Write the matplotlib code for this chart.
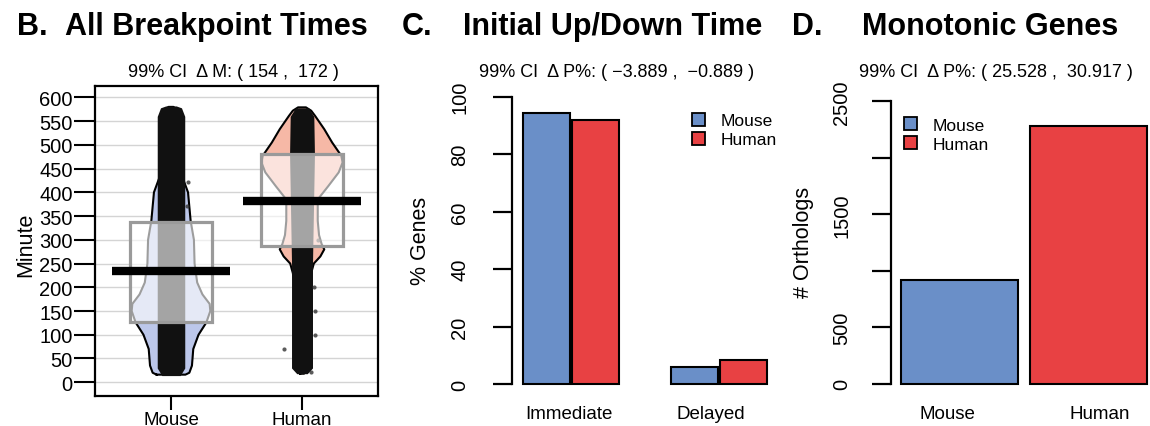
import matplotlib
matplotlib.use("Agg")
import matplotlib.pyplot as plt
import matplotlib.transforms as mtrans
import numpy as np
from matplotlib.patches import Patch, Rectangle

plt.rcParams['font.family'] = ['Liberation Sans', 'DejaVu Sans']

W, H = 1150, 427

# ---- panel B: breakpoint times (violin + jitter cloud + box + mean)
groups_b = ['Mouse', 'Human']
viol_colors = ['#bcc7ea', '#f6b8a6']
mouse_vy = [16, 20, 35, 70, 100, 126, 150, 165, 185, 210, 250, 300, 340, 370, 400, 430, 460, 500, 540, 575, 580]
mouse_vw = [0.11, 0.14, 0.16, 0.17, 0.21, 0.27, 0.30, 0.295, 0.24, 0.20, 0.18, 0.175, 0.15, 0.14, 0.13, 0.09, 0.06, 0.045, 0.038, 0.034, 0.02]
human_vy = [18, 30, 60, 100, 150, 200, 230, 250, 265, 280, 291, 310, 340, 385, 413, 442, 463, 477, 505, 533, 561, 572, 579]
human_vw = [0.015, 0.038, 0.045, 0.053, 0.053, 0.055, 0.07, 0.09, 0.14, 0.17, 0.15, 0.13, 0.12, 0.12, 0.2, 0.28, 0.31, 0.30, 0.23, 0.17, 0.10, 0.07, 0.03]
# extent of the jittered point cloud
mouse_cy = [14, 30, 560, 578, 582]
mouse_cw = [0.07, 0.105, 0.105, 0.08, 0.04]
human_cy = [18, 30, 250, 480, 560, 578]
human_cw = [0.04, 0.08, 0.08, 0.095, 0.09, 0.05]
stray_x = [1.13, 1.12, 2.10, 2.10, 2.09, 1.86, 2.07, 2.12]
stray_y = [421, 372, 150, 100, 200, 70, 22, 300]
q1 = [127, 288]
q3 = [337, 480]
means = [234, 381]

# ---- panel C: initial up/down time
cats_c = ['Immediate', 'Delayed']
mouse_c = [94.2, 5.8]
human_c = [91.7, 8.3]

# ---- panel D: monotonic genes
cats_d = ['Mouse', 'Human']
counts_d = [915, 2282]

blue = '#6a8fc8'
red = '#e84143'


def fx(x):
    return x / W


def fy(y):
    return 1 - y / H


def axes_px(x0, y0, x1, y1):
    return fig.add_axes([fx(x0), fy(y1), (x1 - x0) / W, (y1 - y0) / H])


fig = plt.figure(figsize=(11.5, 4.27), dpi=100)

# ================= B =================
ax = axes_px(95, 87, 378, 397)
ax.set_xlim(0.42, 2.58)
ax.set_ylim(-29, 624)
for v in range(0, 601, 50):
    ax.axhline(v, color='#d4d4d4', lw=1.0, zorder=0)

prof = [(mouse_vy, mouse_vw, mouse_cy, mouse_cw), (human_vy, human_vw, human_cy, human_cw)]
for i, (vy, vw, cy, cw) in enumerate(prof):
    c = i + 1
    vy = np.array(vy); vw = np.array(vw)
    ax.fill_betweenx(vy, c - vw, c + vw, color=viol_colors[i], lw=0, zorder=1)
    xs = np.concatenate([c - vw, (c + vw)[::-1], [c - vw[0]]])
    ys = np.concatenate([vy, vy[::-1], [vy[0]]])
    ax.plot(xs, ys, color='black', lw=1.5, zorder=2)
    cy = np.array(cy); cw = np.array(cw)
    ax.fill_betweenx(cy, c - cw, c + cw, color='#111111', lw=0, zorder=3)
ax.scatter(stray_x, stray_y, s=9, color='#333333', alpha=0.8, lw=0, zorder=3)

for i in range(2):
    c = i + 1
    ax.add_patch(Rectangle((c - 0.31, q1[i]), 0.62, q3[i] - q1[i], facecolor='white', alpha=0.62,
                           edgecolor='none', zorder=4))
    ax.add_patch(Rectangle((c - 0.31, q1[i]), 0.62, q3[i] - q1[i], facecolor='none',
                           edgecolor='#9a9a9a', lw=2.3, zorder=5))
    ax.plot([c - 0.45, c + 0.45], [means[i], means[i]], color='black', lw=6, solid_capstyle='butt', zorder=6)

ax.set_yticks(range(0, 601, 50))
ax.set_xticks([1, 2])
ax.set_xticklabels(groups_b)
ax.tick_params(axis='y', length=15, width=1.5, pad=1, labelsize=14.5)
ax.tick_params(axis='x', length=10, width=1.5, pad=1, labelsize=13.5)
for s in ax.spines.values():
    s.set_linewidth(1.6)

fig.text(fx(17), fy(35), 'B.', fontsize=22, fontweight='bold', va='baseline', ha='left')
fig.text(fx(65), fy(35), 'All Breakpoint Times', fontsize=22, fontweight='bold', va='baseline', ha='left')
fig.text(fx(233), fy(77), '99% CI  \u0394 M: ( 154 ,  172 )', fontsize=13, va='baseline', ha='center')
fig.text(fx(26), fy(245), 'Minute', fontsize=15.5, rotation=90, va='center', ha='center')


def r_bar_axes(ax, ymax, yticks, ylabels, label_x):
    for k in ['top', 'right', 'bottom']:
        ax.spines[k].set_visible(False)
    ax.spines['left'].set_bounds(0, ymax)
    ax.spines['left'].set_linewidth(1.6)
    ax.set_yticks(yticks)
    ax.set_yticklabels([])
    ax.tick_params(axis='y', length=14, width=1.6)
    ax.tick_params(axis='x', length=0, pad=7, labelsize=13.5)
    tr = mtrans.blended_transform_factory(fig.transFigure, ax.transData)
    for v, lab in zip(yticks, ylabels):
        ax.text(fx(label_x), v, lab, transform=tr, rotation=90, fontsize=14.5,
                ha='center', va='center', clip_on=False)


def legend(ax, x, y):
    ax.legend(handles=[Patch(facecolor=blue, edgecolor='black', lw=1.3, label='Mouse'),
                       Patch(facecolor=red, edgecolor='black', lw=1.3, label='Human')],
              loc='upper left', bbox_to_anchor=(x, y), frameon=False, fontsize=12.5,
              handlelength=0.75, handleheight=0.75, handletextpad=0.9, labelspacing=0.2,
              borderaxespad=0, borderpad=0)


# ================= C =================
ax = axes_px(512, 86, 778, 396.5)
ax.set_xlim(0.8, 6.2)
ax.set_ylim(-4, 104)
xm = [1.5, 4.5]
xh = [2.5, 5.5]
ax.bar(xm, mouse_c, width=0.95, color=blue, edgecolor='black', lw=1.5)
ax.bar(xh, human_c, width=0.95, color=red, edgecolor='black', lw=1.5)
r_bar_axes(ax, 100, [0, 20, 40, 60, 80, 100], ['0', '20', '40', '60', '80', '100'], 460)
ax.set_xticks([1.95, 4.83])
ax.set_xticklabels(cats_c)
legend(ax, 0.675, 0.91)

fig.text(fx(402), fy(35), 'C.', fontsize=22, fontweight='bold', va='baseline', ha='left')
fig.text(fx(463), fy(35), 'Initial Up/Down Time', fontsize=22, fontweight='bold', va='baseline', ha='left')
fig.text(fx(617), fy(77), '99% CI  \u0394 P%: ( \u22123.889 ,  \u22120.889 )', fontsize=13, va='baseline', ha='center')
fig.text(fx(420), fy(241), '% Genes', fontsize=15.5, rotation=90, va='center', ha='center')

# ================= D =================
ax = axes_px(891, 91, 1157, 396)
ax.set_xlim(0.016, 2.284)
ax.set_ylim(-100, 2600)
ax.bar([0.6, 1.7], counts_d, width=1.0, color=[blue, red], edgecolor='black', lw=1.5)
r_bar_axes(ax, 2500, [0, 500, 1000, 1500, 2000, 2500], ['0', '500', '', '1500', '', '2500'], 842)
ax.set_xticks([0.5, 1.8])
ax.set_xticklabels(cats_d)
legend(ax, 0.05, 0.91)

fig.text(fx(792), fy(35), 'D.', fontsize=22, fontweight='bold', va='baseline', ha='left')
fig.text(fx(862), fy(35), 'Monotonic Genes', fontsize=22, fontweight='bold', va='baseline', ha='left')
fig.text(fx(996), fy(77), '99% CI  \u0394 P%: ( 25.528 ,  30.917 )', fontsize=13, va='baseline', ha='center')
fig.text(fx(804), fy(242), '# Orthologs', fontsize=15.5, rotation=90, va='center', ha='center')

fig.savefig('out.png', dpi=100)
